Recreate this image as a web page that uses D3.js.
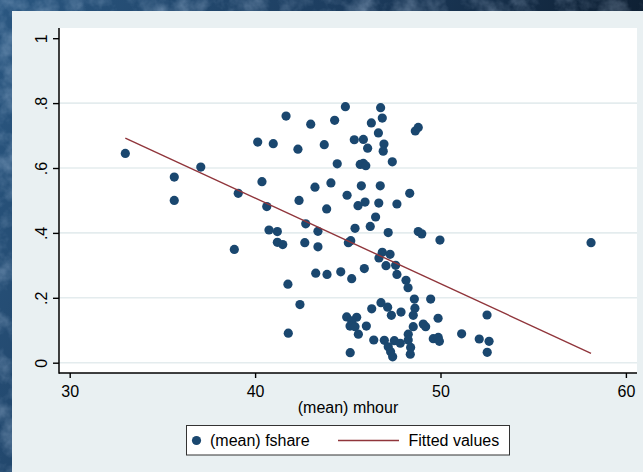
<!DOCTYPE html>
<html>
<head>
<meta charset="utf-8">
<script src="https://cdn.jsdelivr.net/npm/d3@7"></script>
<style>
  html, body { margin: 0; padding: 0; background: #1d3f63; }
  svg { display: block; }
  text { font-family: "Liberation Sans", Arial, Helvetica, sans-serif; fill: #000; }
</style>
</head>
<body>
<svg id="chart" width="643" height="472"></svg>
<script>
var width = 643, height = 472;
var font = "16px";
var markerColor = "#1a476f";
var fitColor = "#90353b";

// (mean) mhour by group
var mhour = [33.00, 35.64, 35.64, 37.07, 39.09, 40.14, 40.98, 41.67, 42.31, 40.37,
  40.63, 42.37, 40.75, 41.20, 41.20, 41.49, 38.88, 41.77, 42.42, 41.79,
  44.87, 46.77, 46.86, 43.00, 44.29, 46.27, 46.65, 48.80, 48.64, 43.73,
  45.35, 45.84, 46.07, 46.95, 46.91, 44.43, 45.67, 45.84, 45.97, 47.40,
  43.23, 44.09, 45.73, 46.75, 48.34, 44.96, 43.86, 45.55, 45.93, 46.67,
  47.65, 46.50, 46.21, 45.39, 42.73, 43.39, 47.18, 48.80, 48.99,
  49.97, 42.68, 43.39, 45.03, 45.16, 46.86, 47.28, 46.68, 47.06, 47.58,
  47.65, 43.27, 43.88, 44.62, 45.21, 45.89, 48.14, 48.25, 48.59, 49.47,
  46.79, 47.15, 46.29, 47.87, 47.35, 48.62, 48.53, 44.94, 45.48, 45.21,
  45.12, 45.39, 46.00, 49.87, 49.07, 49.20, 48.53, 45.57, 48.26, 51.14,
  46.40, 46.97, 47.51, 47.83, 48.26, 49.61, 49.88, 49.94, 47.18, 47.31,
  47.42, 48.39, 48.37, 45.13,
  58.12, 52.51, 52.09, 52.62, 52.52];

// (mean) fshare by group
var fshare = [0.645, 0.572, 0.500, 0.603, 0.522, 0.680, 0.675, 0.760, 0.658, 0.558,
  0.481, 0.500, 0.409, 0.404, 0.371, 0.364, 0.349, 0.242, 0.179, 0.091,
  0.789, 0.786, 0.754, 0.735, 0.747, 0.739, 0.708, 0.725, 0.714, 0.672,
  0.687, 0.688, 0.661, 0.674, 0.652, 0.613, 0.611, 0.614, 0.607, 0.619,
  0.541, 0.554, 0.545, 0.545, 0.522, 0.516, 0.474, 0.484, 0.495, 0.492,
  0.489, 0.449, 0.420, 0.414, 0.428, 0.405, 0.401, 0.404, 0.397,
  0.378, 0.370, 0.357, 0.370, 0.376, 0.340, 0.334, 0.323, 0.299, 0.300,
  0.272, 0.276, 0.272, 0.280, 0.259, 0.290, 0.254, 0.231, 0.196, 0.196,
  0.185, 0.171, 0.166, 0.156, 0.146, 0.168, 0.146, 0.141, 0.140, 0.129,
  0.113, 0.111, 0.113, 0.137, 0.119, 0.111, 0.111, 0.088, 0.088, 0.089,
  0.070, 0.069, 0.068, 0.060, 0.070, 0.074, 0.078, 0.066, 0.049, 0.034,
  0.018, 0.047, 0.026, 0.031,
  0.370, 0.147, 0.073, 0.066, 0.032];

// fitted values, read at both ends of the line
var fitX = [33.00, 58.12];
var fitY = [0.692, 0.029];

var xTicks = [30, 40, 50, 60];
var yTicks = [0, 0.2, 0.4, 0.6, 0.8, 1];
var yTickLabels = ["0", ".2", ".4", ".6", ".8", "1"];
var legendLabels = ["(mean) fshare", "Fitted values"];

var svg = d3.select("#chart");
var defs = svg.append("defs");

/* textured blue backdrop */
var grad = defs.append("linearGradient").attr("id", "bg")
  .attr("x1", "0").attr("y1", "0").attr("x2", "1").attr("y2", "0.3");
grad.append("stop").attr("offset", "0").attr("stop-color", "#2a5781");
grad.append("stop").attr("offset", "0.5").attr("stop-color", "#1c3c5e");
grad.append("stop").attr("offset", "1").attr("stop-color", "#0c1b2c");

var filter = defs.append("filter").attr("id", "tex")
  .attr("x", 0).attr("y", 0).attr("width", "100%").attr("height", "100%");
filter.append("feTurbulence")
  .attr("type", "fractalNoise")
  .attr("baseFrequency", "0.045")
  .attr("numOctaves", 4)
  .attr("seed", 7);
filter.append("feColorMatrix")
  .attr("type", "matrix")
  .attr("values", "0 0 0 0 0.6  0 0 0 0 0.75  0 0 0 0 0.95  1.6 0 0 0 -0.65");

svg.append("rect").attr("width", width).attr("height", height).attr("fill", "url(#bg)");
svg.append("rect").attr("width", width).attr("height", height)
  .attr("filter", "url(#tex)").attr("opacity", 0.45);

/* graph region */
svg.append("rect")
  .attr("x", 12).attr("y", 11)
  .attr("width", width - 12).attr("height", height - 11)
  .attr("fill", "#e9f0f2");

var plot = {left: 59, right: 637, top: 28, bottom: 373};

svg.append("rect")
  .attr("x", plot.left).attr("y", plot.top)
  .attr("width", plot.right - plot.left).attr("height", plot.bottom - plot.top)
  .attr("fill", "#fff");

var x = d3.scaleLinear().domain([30, 60]).range([69.7, 625.9]);
var y = d3.scaleLinear().domain([0, 1]).range([362.7, 38.2]);

/* grid lines (none at the top tick) */
svg.append("g")
  .selectAll("line")
  .data(yTicks.filter(function(d) { return d < 1; }))
  .enter().append("line")
  .attr("x1", plot.left).attr("x2", plot.right)
  .attr("y1", function(d) { return y(d); })
  .attr("y2", function(d) { return y(d); })
  .attr("stroke", "#e4ecee")
  .attr("stroke-width", 1.6);

/* scatter */
svg.append("g")
  .selectAll("circle")
  .data(mhour.map(function(d, i) { return [d, fshare[i]]; }))
  .enter().append("circle")
  .attr("cx", function(d) { return x(d[0]); })
  .attr("cy", function(d) { return y(d[1]); })
  .attr("r", 4.6)
  .attr("fill", markerColor);

/* fitted line */
svg.append("path")
  .datum(fitX.map(function(d, i) { return [d, fitY[i]]; }))
  .attr("d", d3.line().x(function(d) { return x(d[0]); }).y(function(d) { return y(d[1]); }))
  .attr("fill", "none")
  .attr("stroke", fitColor)
  .attr("stroke-width", 1.4);

/* axes */
var yAxis = d3.axisLeft(y)
  .tickValues(yTicks)
  .tickFormat(function(d, i) { return yTickLabels[i]; })
  .tickSize(6)
  .tickPadding(6);
var gy = svg.append("g")
  .attr("transform", "translate(" + plot.left + ",0)")
  .call(yAxis);
gy.select(".domain").remove();
gy.selectAll(".tick line").attr("stroke", "#000").attr("stroke-width", 1.4);
gy.selectAll(".tick text")
  .attr("x", null).attr("dy", null)
  .attr("text-anchor", "middle")
  .attr("transform", "translate(-12.5,0) rotate(-90)")
  .style("font-size", font)
  .style("fill", "#000");

var xAxis = d3.axisBottom(x)
  .tickValues(xTicks)
  .tickFormat(d3.format("d"))
  .tickSize(5)
  .tickPadding(6);
var gx = svg.append("g")
  .attr("transform", "translate(0," + plot.bottom + ")")
  .call(xAxis);
gx.select(".domain").remove();
gx.selectAll(".tick line").attr("stroke", "#000").attr("stroke-width", 1.4);
gx.selectAll(".tick text")
  .attr("dy", null).attr("y", 24)
  .style("font-size", font)
  .style("fill", "#000");

svg.append("line")
  .attr("x1", plot.left).attr("x2", plot.left)
  .attr("y1", plot.top).attr("y2", plot.bottom + 0.7)
  .attr("stroke", "#000").attr("stroke-width", 1.5);
svg.append("line")
  .attr("x1", plot.left).attr("x2", plot.right)
  .attr("y1", plot.bottom).attr("y2", plot.bottom)
  .attr("stroke", "#000").attr("stroke-width", 1.5);

svg.append("text")
  .attr("x", (plot.left + plot.right) / 2)
  .attr("y", 413)
  .attr("text-anchor", "middle")
  .style("font-size", font)
  .text("(mean) mhour");

/* legend */
var legend = svg.append("g");
legend.append("rect")
  .attr("x", 186.5).attr("y", 425.5)
  .attr("width", 323).attr("height", 29.5)
  .attr("fill", "#fff")
  .attr("stroke", "#333").attr("stroke-width", 1);
legend.append("circle")
  .attr("cx", 196.5).attr("cy", 440.5).attr("r", 4.6)
  .attr("fill", markerColor);
legend.append("text")
  .attr("x", 210).attr("y", 446)
  .style("font-size", font)
  .text(legendLabels[0]);
legend.append("line")
  .attr("x1", 338).attr("x2", 399)
  .attr("y1", 440.5).attr("y2", 440.5)
  .attr("stroke", fitColor).attr("stroke-width", 1.4);
legend.append("text")
  .attr("x", 408.5).attr("y", 446)
  .style("font-size", font)
  .text(legendLabels[1]);
</script>
</body>
</html>
